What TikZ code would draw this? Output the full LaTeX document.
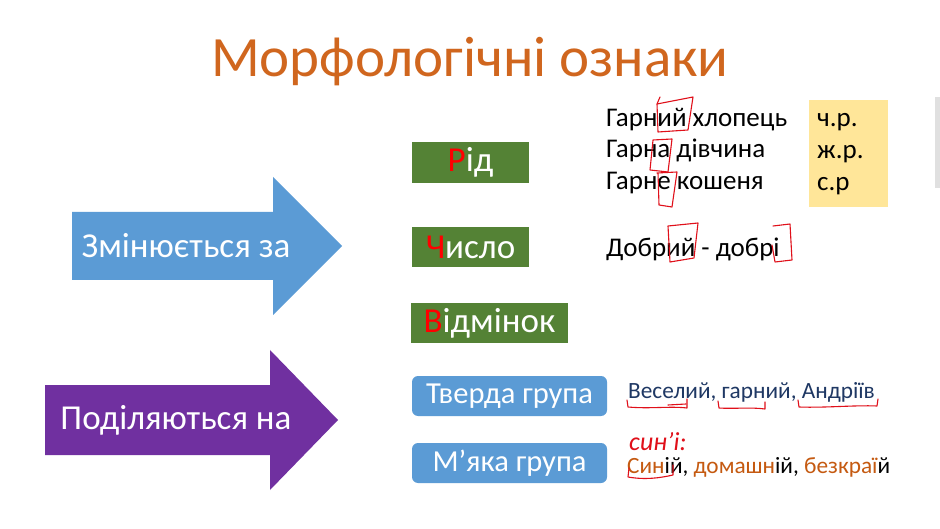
\documentclass[tikz,border=0pt]{standalone}
\usepackage{fontspec}
\setmainfont{Carlito}
\definecolor{titleor}{HTML}{D0661E}
\definecolor{arrblue}{HTML}{5B9BD5}
\definecolor{arrpurple}{HTML}{7030A0}
\definecolor{boxgreen}{HTML}{548235}
\definecolor{boxblue}{HTML}{5B9BD5}
\definecolor{gold}{HTML}{FFE699}
\definecolor{navy}{HTML}{1F3864}
\definecolor{brownor}{HTML}{C55A11}
\definecolor{inkred}{HTML}{E0101A}
\begin{document}
\begin{tikzpicture}[x=1pt,y=-1pt,
  greenbox/.style={fill=boxgreen,text=white,inner sep=0pt,font=\fontsize{35}{37}\selectfont},
  bluebox/.style={fill=boxblue,text=white,rounded corners=6pt,inner sep=0pt,minimum width=195pt,minimum height=40pt,font=\fontsize{30.5}{32}\selectfont},
  arrowtext/.style={text=white,font=\fontsize{35}{37}\selectfont},
  bodytext/.style={anchor=base west,inner sep=0pt,font=\fontsize{27}{29}\selectfont},
  grouptext/.style={anchor=base west,inner sep=0pt,font=\fontsize{23.3}{25}\selectfont},
  ink/.style={draw=inkred,line width=1.1pt,line cap=round,line join=round}]
\useasboundingbox (0,0) rectangle (940,529);
\fill[white] (0,0) rectangle (940,529);
% faint edge strip at right
\fill[black!12] (935,97) rectangle (940,188);

% title
\node[anchor=base,inner sep=0pt,text=titleor,font=\fontsize{57}{60}\selectfont] (title) at (470,77) {Морфологічні ознаки};

% arrows
\fill[arrblue] (72,212) -- (273,212) -- (273,177) -- (342,246) -- (273,315) -- (273,280) -- (72,280) -- cycle;
\node[arrowtext] (zm) at (186,246) {Змінюється за};
\fill[arrpurple] (45,385) -- (270,385) -- (270,350) -- (338,420) -- (270,490) -- (270,455) -- (45,455) -- cycle;
\node[arrowtext] (pd) at (176,420) {Поділяються на};

% green boxes
\node[greenbox,minimum width=117pt,minimum height=41pt] (rid) at (470.5,162.5) {\textcolor{red}{Р}ід};
\node[greenbox,minimum width=117pt,minimum height=40pt] (chyslo) at (470.5,247) {\textcolor{red}{Ч}исло};
\node[greenbox,minimum width=157pt,minimum height=40pt] (vidm) at (489.5,323) {\textcolor{red}{В}ідмінок};

% blue boxes
\node[bluebox] (tverda) at (509.5,396) {Тверда група};
\node[bluebox] (miaka) at (509.5,463) {М’яка група};

% gender examples
\node[bodytext] (g1) at (606,127) {Гарний хлопець};
\node[bodytext] (g2) at (606,158) {Гарна дівчина};
\node[bodytext] (g3) at (606,190) {Гарне кошеня};
\fill[gold] (809,100) rectangle (888,207);
\node[bodytext] (r1) at (817,127) {ч.р.};
\node[bodytext] (r2) at (817,159) {ж.р.};
\node[bodytext] (r3) at (817,191) {с.р};

% number
\node[bodytext] (num) at (606,257) {Добрий - добрі};

% groups
\node[grouptext,text=navy] (hard) at (628,398) {Веселий, гарний, Андріїв};
\node[grouptext] (soft) at (627,473) {\textcolor{brownor}{Син}ій, \textcolor{brownor}{домашн}ій, \textcolor{brownor}{безкраї}й};
\node[anchor=base west,inner sep=0pt,text=inkred,font=\fontsize{26}{28}\selectfont\itshape] (note) at (629,450) {син'і:};

% handwritten marks
\draw[ink] (660,97) -- (657,104) -- (693,97) -- (688,130) -- (658,132) -- (657,104);
\draw[ink] (653,140) -- (672,139) -- (668,172) -- (650,170) -- cycle;
\draw[ink] (657,173) -- (677,172) -- (672,207) -- (659,205) -- (658,173);
\draw[ink] (668,226) -- (698,223) -- (694,258) -- (670,262) -- (668,226);
\draw[ink] (773,226) -- (790,224) -- (792,260) -- (775,262) -- (772,245);
\draw[ink] (627,400) -- (628,407) .. controls (650,409) and (670,406) .. (687,408) -- (687,399);
\draw[ink] (668,405) -- (686,404);
\draw[ink] (718,401) -- (719,408) .. controls (735,409) and (750,407) .. (765,409) -- (765,402);
\draw[ink] (798,400) -- (799,407) .. controls (825,408) and (855,405) .. (877,406) -- (878,399);
\draw[ink] (629,468) -- (628,477) .. controls (645,480) and (660,478) .. (673,475) -- (673,465);
\end{tikzpicture}
\end{document}
